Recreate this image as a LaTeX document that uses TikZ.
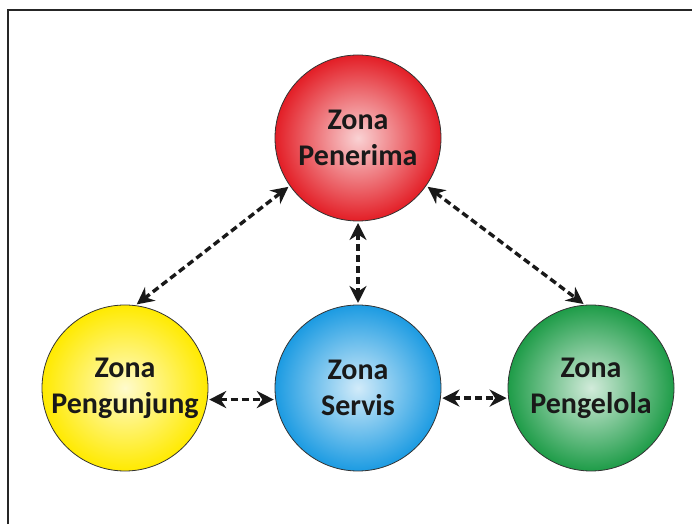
\documentclass[tikz,border=0pt]{standalone}
\usepackage{fontspec}
\setmainfont{Carlito}
\usetikzlibrary{shapes,arrows.meta,positioning}
\definecolor{zred}{HTML}{E31E26}
\definecolor{zyellow}{HTML}{FFEA00}
\definecolor{zblue}{HTML}{1C9BE2}
\definecolor{zgreen}{HTML}{1E9C48}
\tikzstyle{zone} = [draw=black!80, line width=0.8pt, circle, minimum size=166pt, inner sep=0pt, outer sep=0pt, align=center, font=\fontsize{30}{36}\selectfont\bfseries, text=black!90]
\tikzstyle{line} = [draw, line width=3.4pt, dash pattern=on 7pt off 4pt, {Stealth[length=17pt,width=17pt]}-{Stealth[length=17pt,width=17pt]}, shorten <=2pt, shorten >=2pt, black!90]

\begin{document}
\begin{tikzpicture}[x=1pt, y=1pt, node distance=67pt]
        \useasboundingbox (0,0) rectangle (692,524);
        \draw[line width=2pt, black!85] (8,0) -- (8,514) -- (692,514);
        \node[zone, inner color=zblue!20!white, outer color=zblue] (servis) at (358,136) {Zona\\Servis};
        \node[zone, inner color=zyellow!20!white, outer color=zyellow, left=of servis] (pengunjung) {Zona\\Pengunjung};
        \node[zone, inner color=zgreen!20!white, outer color=zgreen, right=of servis] (pengelola) {Zona\\Pengelola};
        \node[zone, inner color=zred!20!white, outer color=zred, above=84pt of servis] (penerima) {Zona\\Penerima};
        \path[line] (penerima.215) -- (pengunjung.83);
        \path[line] (penerima.south) -- (servis.north);
        \path[line] (penerima.-35) -- (pengelola.94);
        \path[line] (pengunjung.-8) -- (servis.188);
        \path[line] (servis.-7) -- (pengelola.187);
    \end{tikzpicture}
\end{document}
